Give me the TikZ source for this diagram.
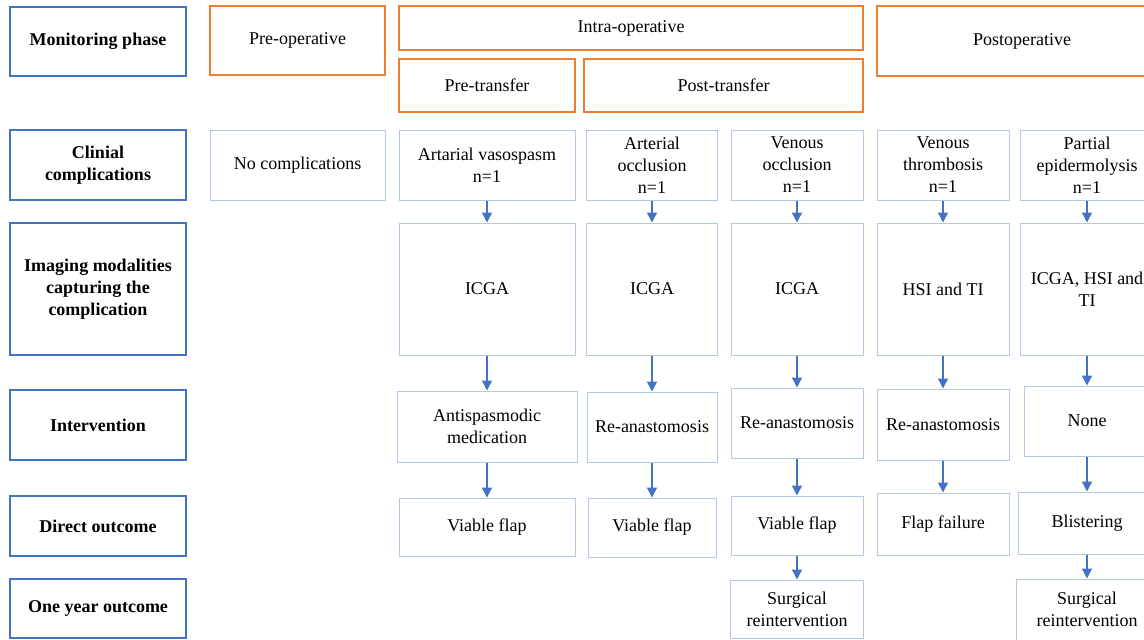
\documentclass[tikz,border=0pt]{standalone}
\usepackage{fontspec}
\setmainfont{Liberation Serif}
\usepackage{xcolor}
\usetikzlibrary{positioning,arrows.meta}
\definecolor{hdblue}{HTML}{4472C4}
\definecolor{ltblue}{HTML}{B4C7E7}
\definecolor{phorange}{HTML}{ED7D31}

\begin{document}
\begin{tikzpicture}[
  x=1pt, y=-1pt,
  font=\fontsize{18}{22}\selectfont,
  box/.style={draw, align=center, inner sep=2pt},
  head/.style={box, draw=hdblue, line width=2.2pt, font=\fontsize{18}{22}\selectfont\bfseries},
  phase/.style={box, draw=phorange, line width=2.2pt},
  cell/.style={box, draw=ltblue, line width=1pt},
  arr/.style={-{Triangle[length=10pt, width=10pt]}, draw=hdblue, fill=hdblue, line width=1.4pt}]
  \useasboundingbox (0,0) rectangle (1144,640);
  \clip (0,0) rectangle (1144,640);
  % row headings
  \node[head, minimum width=176, minimum height=69] (hphase) at (98,41.5) {Monitoring phase};
  \node[head, minimum width=176, minimum height=70] (hclin) at (98,165) {Clinial\\ complications};
  \node[head, minimum width=176, minimum height=132] (himg) at (98,289) {Imaging modalities\\ capturing the\\ complication};
  \node[head, minimum width=176, minimum height=70] (hint) at (98,425) {Intervention};
  \node[head, minimum width=176, minimum height=60] (hdir) at (98,526) {Direct outcome};
  \node[head, minimum width=176, minimum height=59] (hyear) at (98,608.5) {One year outcome};
  % monitoring phases
  \node[phase, minimum width=175, minimum height=69] (preop) at (297.5,40.5) {Pre-operative};
  \node[phase, minimum width=464, minimum height=44] (intra) at (631,28) {Intra-operative};
  \node[phase, minimum width=176, minimum height=53] (pretr) at (487,85.5) {Pre-transfer};
  \node[phase, minimum width=279, minimum height=53] (posttr) at (723.5,85.5) {Post-transfer};
  \node[phase, minimum width=290, minimum height=70] (postop) at (1022,41) {Postoperative};
  % clinical complications
  \node[cell, minimum width=175, minimum height=70] (nocomp) at (297.5,165) {No complications};
  \node[cell, minimum width=176, minimum height=70] (c1) at (487,165) {Artarial vasospasm\\ n=1};
  \node[cell, minimum width=131, minimum height=70] (c2) at (652,165) {Arterial\\ occlusion\\ n=1};
  \node[cell, minimum width=132, minimum height=70] (c3) at (797,165) {Venous\\ occlusion\\ n=1};
  \node[cell, minimum width=132, minimum height=70] (c4) at (943,165) {Venous\\ thrombosis\\ n=1};
  \node[cell, minimum width=134, minimum height=70] (c5) at (1087,165) {Partial\\ epidermolysis\\ n=1};
  % imaging modalities
  \node[cell, minimum width=176, minimum height=132] (i1) at (487,289) {ICGA};
  \node[cell, minimum width=131, minimum height=132] (i2) at (652,289) {ICGA};
  \node[cell, minimum width=132, minimum height=132] (i3) at (797,289) {ICGA};
  \node[cell, minimum width=132, minimum height=132] (i4) at (943,289) {HSI and TI};
  \node[cell, minimum width=134, minimum height=132] (i5) at (1087,289) {ICGA, HSI and\\ TI};
  % interventions
  \node[cell, minimum width=180, minimum height=71] (v1) at (487,426.5) {Antispasmodic\\ medication};
  \node[cell, minimum width=130, minimum height=70] (v2) at (652,427) {Re-anastomosis};
  \node[cell, minimum width=132, minimum height=70] (v3) at (797,423) {Re-anastomosis};
  \node[cell, minimum width=132, minimum height=71] (v4) at (943,424.5) {Re-anastomosis};
  \node[cell, minimum width=126, minimum height=70] (v5) at (1087,421) {None};
  % direct outcome
  \node[cell, minimum width=176, minimum height=58] (d1) at (487,527) {Viable flap};
  \node[cell, minimum width=128, minimum height=59] (d2) at (652,527.5) {Viable flap};
  \node[cell, minimum width=132, minimum height=59] (d3) at (797,525.5) {Viable flap};
  \node[cell, minimum width=132, minimum height=62] (d4) at (943,524) {Flap failure};
  \node[cell, minimum width=138, minimum height=62] (d5) at (1087,523) {Blistering};
  % one year outcome
  \node[cell, minimum width=133, minimum height=58] (y3) at (797,609) {Surgical\\ reintervention};
  \node[cell, minimum width=142, minimum height=61] (y5) at (1087,609.5) {Surgical\\ reintervention};
  % arrows
  \draw[arr] (c1) -- (i1);
  \draw[arr] (c2) -- (i2);
  \draw[arr] (c3) -- (i3);
  \draw[arr] (c4) -- (i4);
  \draw[arr] (c5) -- (i5);
  \draw[arr] (i1) -- (v1);
  \draw[arr] (i2) -- (v2);
  \draw[arr] (i3) -- (v3);
  \draw[arr] (i4) -- (v4);
  \draw[arr] (i5) -- (v5);
  \draw[arr] (v1) -- (d1);
  \draw[arr] (v2) -- (d2);
  \draw[arr] (v3) -- (d3);
  \draw[arr] (v4) -- (d4);
  \draw[arr] (v5) -- (d5);
  \draw[arr] (d3) -- (y3);
  \draw[arr] (d5) -- (y5);
\end{tikzpicture}
\end{document}
